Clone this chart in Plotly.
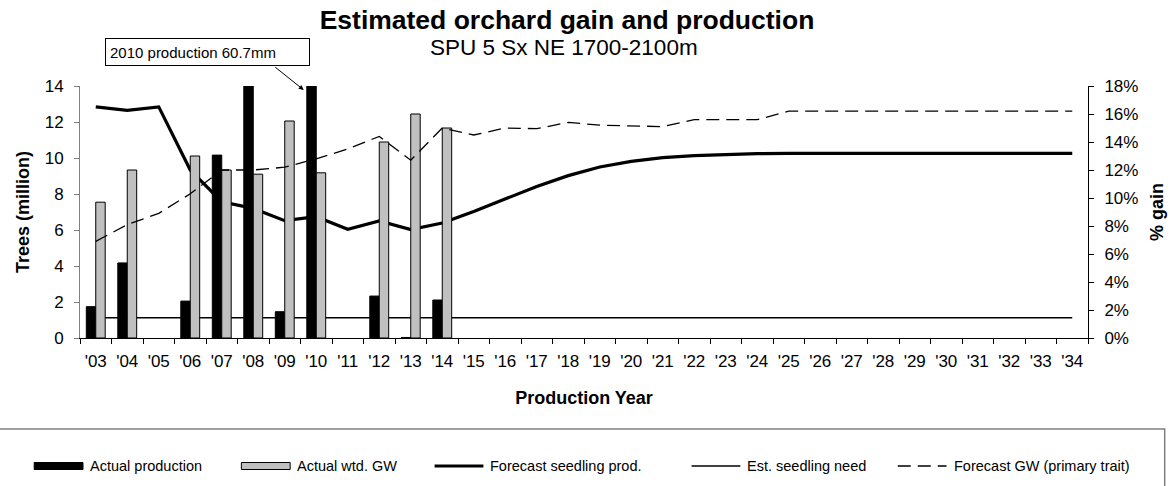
import plotly.graph_objects as go

years = ["'03", "'04", "'05", "'06", "'07", "'08", "'09", "'10", "'11", "'12", "'13", "'14",
         "'15", "'16", "'17", "'18", "'19", "'20", "'21", "'22", "'23", "'24", "'25", "'26",
         "'27", "'28", "'29", "'30", "'31", "'32", "'33", "'34"]

# Actual production (million trees), 2003-2014
actual_prod = [1.74, 4.17, None, 2.05, 10.16, 14.0, 1.46, 60.7, None, 2.33, 0.03, 2.11]
# Actual weighted genetic worth (% gain), 2003-2014
actual_gw = [0.097, 0.120, None, 0.130, 0.120, 0.117, 0.155, 0.118, None, 0.140, 0.160, 0.150]
# Forecast seedling production (million trees)
forecast_prod = [12.84, 12.65, 12.84, 9.33, 7.57, 7.20, 6.52, 6.74, 6.04, 6.50, 6.02, 6.39,
                 7.03, 7.72, 8.42, 9.02, 9.50, 9.81, 10.02, 10.13, 10.20, 10.24, 10.26, 10.26,
                 10.26, 10.26, 10.26, 10.26, 10.26, 10.26, 10.26, 10.26]
# Estimated seedling need (million trees)
seedling_need = [1.13] * 32
# Forecast GW (% gain, primary trait)
forecast_gw = [0.069, 0.081, 0.089, 0.103, 0.120, 0.120, 0.122, 0.128, 0.135, 0.144, 0.127, 0.150,
               0.145, 0.150, 0.1495, 0.154, 0.152, 0.1515, 0.151, 0.156, 0.156, 0.156, 0.162, 0.162,
               0.162, 0.162, 0.162, 0.162, 0.162, 0.162, 0.162, 0.162]

legend_labels = ["Actual production", "Actual wtd. GW", "Forecast seedling prod.",
                 "Est. seedling need", "Forecast GW (primary trait)"]

W, H = 1175, 486
L, R, T, B = 80, 83, 86, 148
PW, PH = W - L - R, H - T - B
FONT = "Liberation Sans, Arial, sans-serif"
DASH = "13px,7px"


def px(x):
    return (x - L) / PW


def py(y):
    return (H - B - y) / PH


fig = go.Figure()
fig.add_trace(go.Bar(x=years[:12], y=actual_prod, name=legend_labels[0],
                     marker=dict(color="black", line=dict(color="black", width=1)),
                     offsetgroup="a", yaxis="y", showlegend=False))
fig.add_trace(go.Bar(x=years[:12], y=actual_gw, name=legend_labels[1],
                     marker=dict(color="#c0c0c0", line=dict(color="black", width=1)),
                     offsetgroup="b", yaxis="y2", showlegend=False))
fig.add_trace(go.Scatter(x=years, y=forecast_prod, name=legend_labels[2], mode="lines",
                         line=dict(color="black", width=3.2), yaxis="y", showlegend=False))
fig.add_trace(go.Scatter(x=years, y=seedling_need, name=legend_labels[3], mode="lines",
                         line=dict(color="black", width=1.5), yaxis="y", showlegend=False))
fig.add_trace(go.Scatter(x=years, y=forecast_gw, name=legend_labels[4], mode="lines",
                         line=dict(color="black", width=1.3, dash=DASH), yaxis="y2",
                         showlegend=False))

shapes = []
annotations = []

# legend box and entries (drawn as layout decorations)
legend_y = 466
shapes.append(dict(type="rect", xref="paper", yref="paper", x0=px(-2), x1=px(1169),
                   y0=py(429), y1=py(520), line=dict(color="#808080", width=1.5),
                   fillcolor="rgba(0,0,0,0)", layer="below"))
symbol_x = [34, 242, 436, 694, 901]
kinds = ["bar_black", "bar_grey", "thick", "thin", "dash"]
for kind, x0, label in zip(kinds, symbol_x, legend_labels):
    x1 = x0 + 49
    if kind.startswith("bar"):
        shapes.append(dict(type="rect", xref="paper", yref="paper", x0=px(x0), x1=px(x1),
                           y0=py(legend_y + 3.5), y1=py(legend_y - 3.5),
                           fillcolor="black" if kind == "bar_black" else "#c0c0c0",
                           line=dict(color="black", width=1)))
    else:
        width = {"thick": 3, "thin": 1.3, "dash": 1.3}[kind]
        dash = DASH if kind == "dash" else "solid"
        shapes.append(dict(type="line", xref="paper", yref="paper", x0=px(x0), x1=px(x1),
                           y0=py(legend_y), y1=py(legend_y),
                           line=dict(color="black", width=width, dash=dash)))
    annotations.append(dict(xref="paper", yref="paper", x=px(x1 + 5), y=py(legend_y), text=label,
                            showarrow=False, xanchor="left", yanchor="middle",
                            font=dict(family=FONT, size=14.5, color="black")))

# subtitle
annotations.append(dict(xref="paper", yref="paper", x=px(566), y=py(47.5),
                        text="SPU 5 Sx NE 1700-2100m",
                        showarrow=False, xanchor="center", yanchor="middle",
                        font=dict(family=FONT, size=22.5, color="black")))
# callout box
annotations.append(dict(xref="paper", yref="paper", x=px(208.5), y=py(52),
                        text="2010 production 60.7mm", showarrow=False,
                        xanchor="center", yanchor="middle", width=195, height=18, align="left",
                        bordercolor="black", borderwidth=1, borderpad=4, bgcolor="white",
                        font=dict(family=FONT, size=15, color="black")))
# callout arrow to the 2010 production bar
annotations.append(dict(x="'10", y=14, xref="x", yref="y", xshift=-12.5, yshift=-4, text="",
                        showarrow=True, arrowhead=2, arrowsize=1, arrowwidth=1,
                        arrowcolor="black", ax=-30, ay=-24, axref="pixel", ayref="pixel"))

fig.update_layout(
    width=W, height=H,
    margin=dict(l=L, r=R, t=T, b=B, pad=0),
    paper_bgcolor="white", plot_bgcolor="white",
    font=dict(family=FONT, color="black", size=17),
    title=dict(text="<b>Estimated orchard gain and production</b>", x=567 / W,
               xanchor="center", xref="container", y=1 - 20 / H, yanchor="middle",
               font=dict(family=FONT, size=26.5, color="black")),
    barmode="group", bargap=0.4, bargroupgap=0.0,
    shapes=shapes, annotations=annotations,
    xaxis=dict(type="category", showgrid=False, showline=True, linecolor="black", linewidth=1,
               ticks="outside", ticklen=5, tickcolor="black", tickson="boundaries",
               tickfont=dict(family=FONT, size=17), ticklabelstandoff=8,
               title=dict(text="<b>Production Year</b>", font=dict(family=FONT, size=18),
                          standoff=20),
               range=[-0.5, 31.5]),
    yaxis=dict(range=[0, 14], dtick=2, showgrid=False, showline=True, linecolor="#808080",
               linewidth=1, ticks="outside", ticklen=5, tickcolor="#808080", zeroline=False,
               tickfont=dict(family=FONT, size=17), ticklabelstandoff=7,
               title=dict(text="<b>Trees (million)</b>", font=dict(family=FONT, size=18),
                          standoff=10)),
    yaxis2=dict(range=[0, 0.18], dtick=0.02, tickformat=".0%", overlaying="y", side="right",
                showgrid=False, showline=True, linecolor="black", linewidth=1, ticks="outside",
                ticklen=5, tickcolor="black", zeroline=False,
                tickfont=dict(family=FONT, size=17), ticklabelstandoff=7,
                title=dict(text="<b>% gain</b>", font=dict(family=FONT, size=18), standoff=12)),
)

fig.write_html("out.html", config={"displayModeBar": False},
               post_script="document.body.style.margin='0';")
